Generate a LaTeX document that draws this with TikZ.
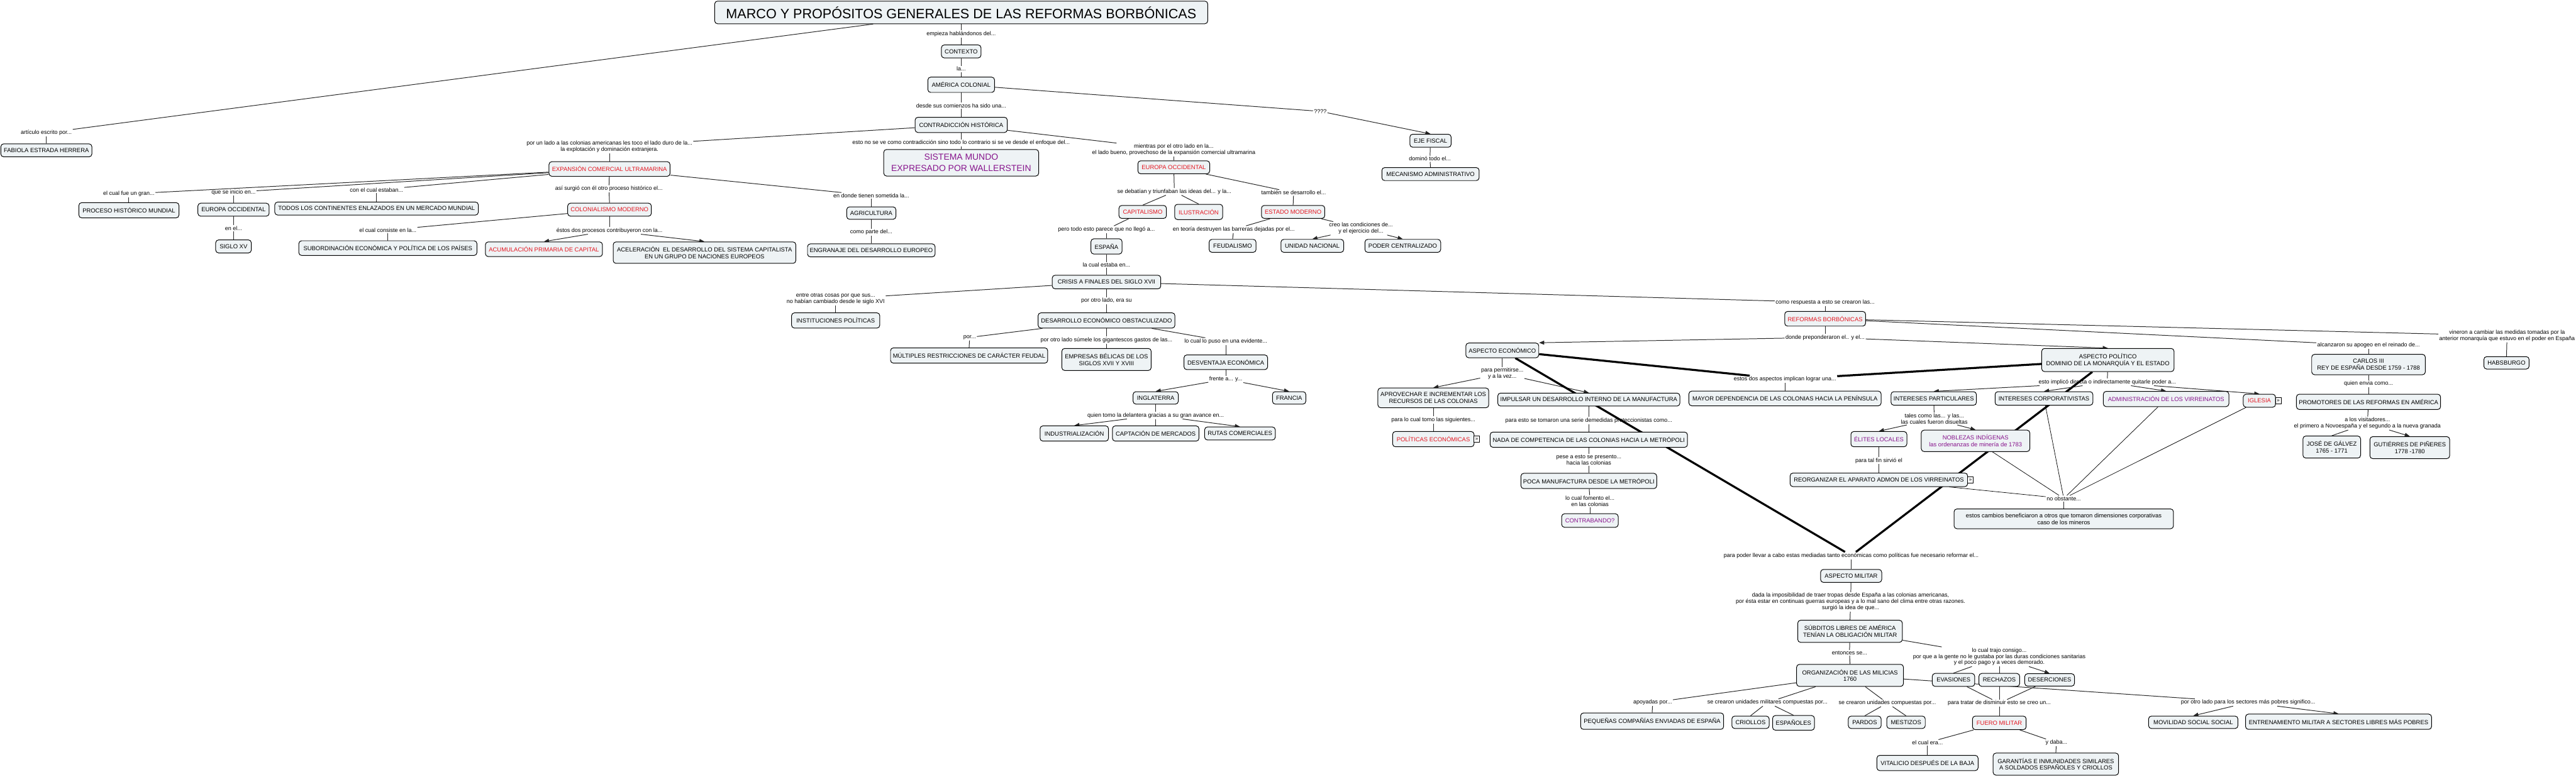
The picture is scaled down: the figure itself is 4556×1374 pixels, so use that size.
\documentclass[tikz,border=0pt]{standalone}
\usepackage{fontspec}
\setmainfont{Liberation Sans}
\usetikzlibrary{arrows.meta}
\definecolor{boxfill}{RGB}{238,243,245}
\definecolor{cred}{RGB}{228,22,32}
\definecolor{cpur}{RGB}{135,20,140}
\pgfdeclarelayer{bg}
\pgfsetlayers{bg,main}
\begin{document}
\begin{tikzpicture}[x=1pt,y=-1pt,
 box/.style={draw=black, line width=1.1pt, fill=boxfill, rounded corners=5pt, align=center,
   font=\fontsize{10.5}{12}\selectfont, inner xsep=4pt, inner ysep=2pt, minimum height=23pt},
 bw/.style={minimum width=#1pt},
 bh/.style={minimum height=#1pt},
 rtxt/.style={text=cred},
 ptxt/.style={text=cpur},
 lbl/.style={align=center, font=\fontsize{10}{11}\selectfont, inner sep=1.5pt},
 conn/.style={line width=1.1pt, draw=black!85},
 arr/.style={conn, -{Triangle[length=9pt,width=7pt]}},
 fine/.style={line width=0.8pt, draw=black},
 heavy/.style={line width=3.6pt, draw=black},
 icon/.style={draw, fill=white, line width=0.6pt, inner sep=0pt, minimum width=10pt, minimum height=11pt, font=\fontsize{9}{9}\selectfont}
]
\useasboundingbox (0,0) rectangle (4556,1374);

% ---------------- boxes ----------------
\node[box,bw=872,bh=40,font=\fontsize{24}{28}\selectfont] (title) at (1700,22) {MARCO Y PROPÓSITOS GENERALES DE LAS REFORMAS BORBÓNICAS};
\node[box,bw=70] (contexto) at (1700,91) {CONTEXTO};
\node[box,bw=118,bh=27] (americacol) at (1700,150) {AMÉRICA COLONIAL};
\node[box,bw=163,bh=27] (contradiccion) at (1700,221) {CONTRADICCIÓN HISTÓRICA};
\node[box,bw=274,bh=47,ptxt,font=\fontsize{15.5}{20}\selectfont] (sistema) at (1700,288) {SISTEMA MUNDO\\EXPRESADO POR WALLERSTEIN};
\node[box,bw=214,bh=26,rtxt] (expansion) at (1078,299) {EXPANSIÓN COMERCIAL ULTRAMARINA};
\node[box,bw=148,rtxt] (colonialismo) at (1078,371) {COLONIALISMO MODERNO};
\node[box,bw=207,bh=26,rtxt] (acumulacion) at (962,441) {ACUMULACIÓN PRIMARIA DE CAPITAL};
\node[box,bw=323,bh=38] (aceleracion) at (1246,447) {ACELERACIÓN \ EL DESARROLLO DEL SISTEMA CAPITALISTA\\EN UN GRUPO DE NACIONES EUROPEOS};
\node[box,bw=315,bh=26] (subordinacion) at (686,439) {SUBORDINACIÓN ECONÓMICA Y POLÍTICA DE LOS PAÍSES};
\node[box,bw=177,bh=27] (proceso) at (228,372) {PROCESO HISTÓRICO MUNDIAL};
\node[box,bw=126] (europaA) at (413,371) {EUROPA OCCIDENTAL};
\node[box,bw=360] (todos) at (666,369) {TODOS LOS CONTINENTES ENLAZADOS EN UN MERCADO MUNDIAL};
\node[box,bw=63] (siglo) at (413,436) {SIGLO XV};
\node[box,bw=161] (fabiola) at (82,266) {FABIOLA ESTRADA HERRERA};
\node[box,bw=87,bh=22] (agricultura) at (1541,377) {AGRICULTURA};
\node[box,bw=222] (engranaje) at (1541,443) {ENGRANAJE DEL DESARROLLO EUROPEO};
\node[box,bw=127,rtxt] (europaB) at (2076,296) {EUROPA OCCIDENTAL};
\node[box,bw=84,rtxt] (capitalismo) at (2021,375) {CAPITALISMO};
\node[box,bw=85,bh=27,rtxt] (ilustracion) at (2120,375) {ILUSTRACIÓN};
\node[box,bw=112,rtxt] (estado) at (2287,375) {ESTADO MODERNO};
\node[box,bw=55,bh=27] (espana) at (1957,436) {ESPAÑA};
\node[box,bw=83] (feudalismo) at (2180,435) {FEUDALISMO};
\node[box,bw=111] (unidad) at (2321,435) {UNIDAD NACIONAL};
\node[box,bw=134] (poder) at (2481,435) {PODER CENTRALIZADO};
\node[box,bw=73] (eje) at (2530,249) {EJE FISCAL};
\node[box,bw=172] (mecanismo) at (2530,308) {MECANISMO ADMINISTRATIVO};
\node[box,bw=192,bh=24] (crisis) at (1957,499) {CRISIS A FINALES DEL SIGLO XVII};
\node[box,bw=156,bh=27] (instituciones) at (1478,567) {INSTITUCIONES POLÍTICAS};
\node[box,bw=242,bh=27] (desarrollo) at (1957,567) {DESARROLLO ECONÓMICO OBSTACULIZADO};
\node[box,bw=278,bh=27] (multiples) at (1714,629) {MÚLTIPLES RESTRICCIONES DE CARÁCTER FEUDAL};
\node[box,bw=158,bh=39] (empresas) at (1957,636) {EMPRESAS BÉLICAS DE LOS\\SIGLOS XVII Y XVIII};
\node[box,bw=148,bh=26] (desventaja) at (2168,641) {DESVENTAJA ECONÓMICA};
\node[box,bw=80,bh=22] (inglaterra) at (2044,704) {INGLATERRA};
\node[box,bw=59,bh=22] (francia) at (2280,704) {FRANCIA};
\node[box,bw=121,bh=27] (industrializacion) at (1900,767) {INDUSTRIALIZACIÓN};
\node[box,bw=153,bh=27] (captacion) at (2044,767) {CAPTACIÓN DE MERCADOS};
\node[box,bw=125] (rutas) at (2193,767) {RUTAS COMERCIALES};
\node[box,bw=143,bh=26,rtxt] (reformas) at (3228,564) {REFORMAS BORBÓNICAS};
\node[box,bw=129,bh=26] (aspecon) at (2657,620) {ASPECTO ECONÓMICO};
\node[box,bw=196,bh=35] (aprovechar) at (2535,704) {APROVECHAR E INCREMENTAR LOS\\RECURSOS DE LAS COLONIAS};
\node[box,bw=322] (impulsar) at (2810,707) {IMPULSAR UN DESARROLLO INTERNO DE LA MANUFACTURA};
\node[box,bw=144,bh=27,rtxt] (politicas) at (2535,777) {POLÍTICAS ECONÓMICAS};
\node[box,bw=349,bh=27] (nada) at (2810,778) {NADA DE COMPETENCIA DE LAS COLONIAS HACIA LA METRÓPOLI};
\node[box,bw=238,bh=27] (poca) at (2810,851) {POCA MANUFACTURA DESDE LA METRÓPOLI};
\node[box,bw=100,bh=24,ptxt] (contrabando) at (2812,921) {CONTRABANDO?};
\node[box,bw=340,bh=26] (mayor) at (3157,705) {MAYOR DEPENDENCIA DE LAS COLONIAS HACIA LA PENÍNSULA};
\node[box,bw=151,bh=24] (intpart) at (3420,705) {INTERESES PARTICULARES};
\node[box,bw=99,bh=27,ptxt] (elites) at (3323,777) {ÉLITES LOCALES};
\node[box,bw=192,bh=38,ptxt] (noblezas) at (3494,780) {NOBLEZAS INDÍGENAS\\las ordenanzas de minería de 1783};
\node[box,bw=314,bh=24] (reorganizar) at (3323,849) {REORGANIZAR EL APARATO ADMON DE LOS VIRREINATOS};
\node[box,bw=234,bh=41] (asppol) at (3728,637) {ASPECTO POLÍTICO\\DOMINIO DE LA MONARQUÍA Y EL ESTADO};
\node[box,bw=173,bh=24] (intcorp) at (3615,705) {INTERESES CORPORATIVISTAS};
\node[box,bw=222,bh=27,ptxt] (admin) at (3831,706) {ADMINISTRACIÓN DE LOS VIRREINATOS};
\node[box,bw=57,rtxt] (iglesia) at (3996,709) {IGLESIA};
\node[box,bw=388,bh=35] (cambios) at (3650,918) {estos cambios beneficiaron a otros que tomaron dimensiones corporativas\\caso de los mineros};
\node[box,bw=201,bh=36] (carlos) at (4189,645) {CARLOS III\\REY DE ESPAÑA DESDE 1759 - 1788};
\node[box,bw=255,bh=27] (promotores) at (4189,711) {PROMOTORES DE LAS REFORMAS EN AMÉRICA};
\node[box,bw=102,bh=39] (jose) at (4124,791) {JOSÉ DE GÁLVEZ\\1765 - 1771};
\node[box,bw=141,bh=39] (gutierres) at (4262,792) {GUTIÉRRES DE PIÑERES\\1778 -1780};
\node[box,bw=80,bh=22] (habsburgo) at (4433,642) {HABSBURGO};
\node[box,bw=108] (aspmil) at (3274,1019) {ASPECTO MILITAR};
\node[box,bw=185,bh=39] (subditos) at (3272,1117) {SÚBDITOS LIBRES DE AMÉRICA\\TENÍAN LA OBLIGACIÓN MILITAR};
\node[box,bw=189,bh=39] (organizacion) at (3272,1195) {ORGANIZACIÓN DE LAS MILICIAS\\1760};
\node[box,bw=75] (evasiones) at (3455,1203) {EVASIONES};
\node[box,bw=72] (rechazos) at (3536,1203) {RECHAZOS};
\node[box,bw=88,bh=22] (deserciones) at (3625,1203) {DESERCIONES};
\node[box,bw=158,bh=22] (movilidad) at (3879,1278) {MOVILIDAD SOCIAL SOCIAL};
\node[box,bw=329,bh=27] (entrenamiento) at (4136,1277) {ENTRENAMIENTO MILITAR A SECTORES LIBRES MÁS POBRES};
\node[box,bw=95,bh=24,rtxt] (fuero) at (3536,1279) {FUERO MILITAR};
\node[box,bw=179,bh=27] (vitalicio) at (3409,1350) {VITALICIO DESPUÉS DE LA BAJA};
\node[box,bw=222,bh=39] (garantias) at (3636,1352) {GARANTÍAS E INMUNIDADES SIMILARES\\A SOLDADOS ESPAÑOLES Y CRIOLLOS};
\node[box,bw=253,bh=29] (pequenas) at (2922,1276) {PEQUEÑAS COMPAÑÍAS ENVIADAS DE ESPAÑA};
\node[box,bw=66,bh=22] (criollos) at (3096,1278) {CRIOLLOS};
\node[box,bw=74,bh=26] (espanoles) at (3172,1279) {ESPAÑOLES};
\node[box,bw=58,bh=22] (pardos) at (3298,1278) {PARDOS};
\node[box,bw=68,bh=22] (mestizos) at (3371,1278) {MESTIZOS};

% icons
\node[icon,anchor=west] (politicasI) at ([xshift=-1pt]politicas.east) {»};
\node[icon,anchor=west] (reorganizarI) at ([xshift=-1pt]reorganizar.east) {»};
\node[icon,anchor=west] (iglesiaI) at ([xshift=-1pt]iglesia.east) {»};

% ---------------- linking labels ----------------
\node[lbl] (lempieza) at (1700,60) {empieza hablándonos del...};
\node[lbl] (lla) at (1700,122) {la...};
\node[lbl] (ldesde) at (1700,187) {desde sus comienzos ha sido una...};
\node[lbl] (lporunlado) at (1078,259) {por un lado a las colonias americanas les toco el lado duro de la...\\la explotación y dominación extranjera.};
\node[lbl] (lestono) at (1700,253) {esto no se ve como contradicción sino todo lo contrario si se ve desde el enfoque del...};
\node[lbl] (lmientras) at (2076,265) {mientras por el otro lado en la...\\el lado bueno, provechoso de la expansión comercial ultramarina};
\node[lbl] (larticulo) at (82,235) {artículo escrito por...};
\node[lbl] (lq) at (2335,197) {????};
\node[lbl] (ldomino) at (2529,281) {dominó todo el...};
\node[lbl] (lelcualfue) at (228,343) {el cual fue un gran...};
\node[lbl] (lqueseinicio) at (413,340) {que se inicio en...};
\node[lbl] (lconelcual) at (666,336) {con el cual estaban...};
\node[lbl] (lasisurgio) at (1077,334) {así surgió con él otro proceso histórico el...};
\node[lbl] (lendonde) at (1541,346) {en donde tienen sometida la...};
\node[lbl] (lenel) at (413,404) {en el...};
\node[lbl] (lelcualconsiste) at (686,407) {el cual consiste en la...};
\node[lbl] (lestosdos) at (1078,408) {éstos dos procesos contribuyeron con la...};
\node[lbl] (lcomoparte) at (1541,411) {como parte del...};
\node[lbl] (lsedebatian) at (2077,339) {se debatían y triunfaban las ideas del... y la...};
\node[lbl] (ltambien) at (2288,341) {también se desarrollo el...};
\node[lbl] (lperotodo) at (1957,406) {pero todo esto parece que no llegó a...};
\node[lbl] (lenteoria) at (2182,406) {en teoría destruyen las barreras dejadas por el...};
\node[lbl] (lcreo) at (2407,404) {creo las condiciones de...\\y el ejercicio del...};
\node[lbl] (llacual) at (1957,469) {la cual estaba en...};
\node[lbl] (lentreotras) at (1478,529) {entre otras cosas por que sus...\\no habían cambiado desde le siglo XVI};
\node[lbl] (lporotrolado) at (1957,532) {por otro lado, era su};
\node[lbl] (lpor) at (1715,597) {por...};
\node[lbl] (lsumele) at (1957,602) {por otro lado súmele los gigantescos gastos de las...};
\node[lbl] (llocual) at (2168,604) {lo cual lo puso en una evidente...};
\node[lbl] (lfrente) at (2168,671) {frente a... y...};
\node[lbl] (lquien) at (2044,735) {quien tomo la delantera gracias a su gran avance en...};
\node[lbl] (lcomorespuesta) at (3228,535) {como respuesta a esto se crearon las...};
\node[lbl] (ldonde) at (3228,597) {donde preponderaron el.. y el...};
\node[lbl] (lparapermitirse) at (2657,661) {para permitirse...\\y a la vez...};
\node[lbl] (lestosdosasp) at (3157,671) {estos dos aspectos implican lograr una...};
\node[lbl] (lparalocual) at (2535,743) {para lo cual tomo las siguientes...};
\node[lbl] (lparaesto) at (2810,744) {para esto se tomaron una serie demedidas proteccionistas como...};
\node[lbl] (lpese) at (2810,814) {pese a esto se presento...\\hacia las colonias};
\node[lbl] (lfomento) at (2812,887) {lo cual fomento el...\\en las colonias};
\node[lbl] (ltales) at (3421,741) {tales como las... y las...\\las cuales fueron disueltas};
\node[lbl] (lparatal) at (3323,815) {para tal fin sirvió el};
\node[lbl] (limplico) at (3727,676) {esto implicó directa o indirectamente quitarle poder a...};
\node[lbl] (lnoob) at (3650,882) {no obstante...};
\node[lbl] (lalcanzaron) at (4189,611) {alcanzaron su apogeo en el reinado de...};
\node[lbl] (lvineron) at (4434,594) {vineron a cambiar las medidas tomadas por la\\anterior monarquía que estuvo en el poder en España};
\node[lbl] (lquienenvia) at (4189,679) {quien envia como...};
\node[lbl] (lvisitadores) at (4187,749) {a los visitadores...\\el primero a Novoespaña y el segundo a la nueva granada};
\node[lbl] (lparapoder) at (3274,983) {para poder llevar a cabo estas mediadas tanto económicas como políticas fue necesario reformar el...};
\node[lbl] (ldada) at (3273,1065) {dada la imposibilidad de traer tropas desde España a las colonias americanas,\\por ésta estar en continuas guerras europeas y a lo mal sano del clima entre otras razones.\\surgió la idea de que...};
\node[lbl] (lentonces) at (3271,1155) {entonces se...};
\node[lbl] (ltrajo) at (3536,1162) {lo cual trajo consigo...\\por que a la gente no le gustaba por las duras condiciones sanitarias\\y el poco pago y a veces demorado.};
\node[lbl] (lapoyadas) at (2923,1243) {apoyadas por...};
\node[lbl] (lunidadesmil) at (3126,1243) {se crearon unidades militares compuestas por...};
\node[lbl] (lunidadescomp) at (3338,1244) {se crearon unidades compuestas por...};
\node[lbl] (lparatratar) at (3536,1244) {para tratar de disminuir esto se creo un...};
\node[lbl] (lsectores) at (3976,1243) {por otro lado para los sectores más pobres significo...};
\node[lbl] (lelcualera) at (3409,1314) {el cual era...};
\node[lbl] (lydaba) at (3637,1314) {y daba...};

% ---------------- connectors ----------------
\begin{pgfonlayer}{bg}
\draw[conn] (title) -- (lempieza);
\draw[conn] (lempieza) -- (contexto.north);
\draw[conn] (contexto) -- (lla);
\draw[conn] (lla) -- (americacol.north);
\draw[conn] (americacol) -- (ldesde);
\draw[conn] (ldesde) -- (contradiccion.north);
\draw[conn] (title) -- (larticulo);
\draw[conn] (larticulo) -- (fabiola.north);
\draw[conn] (americacol) -- (lq);
\draw[arr] (lq) -- (eje.north);
\draw[conn] (eje) -- (ldomino);
\draw[conn] (ldomino) -- (mecanismo.north);
\draw[conn] (contradiccion) -- (lporunlado);
\draw[conn] (lporunlado) -- (expansion.north);
\draw[conn] (contradiccion) -- (lestono);
\draw[conn] (lestono) -- (sistema.north);
\draw[conn] (contradiccion) -- (lmientras);
\draw[conn] (lmientras) -- (europaB.north);
\draw[conn] (expansion) -- (lelcualfue);
\draw[conn] (lelcualfue) -- (proceso.north);
\draw[conn] (expansion) -- (lqueseinicio);
\draw[conn] (lqueseinicio) -- (europaA.north);
\draw[conn] (europaA) -- (lenel);
\draw[conn] (lenel) -- (siglo.north);
\draw[conn] (expansion) -- (lconelcual);
\draw[conn] (lconelcual) -- (todos.north);
\draw[conn] (expansion) -- (lasisurgio);
\draw[conn] (lasisurgio) -- (colonialismo.north);
\draw[conn] (expansion) -- (lendonde);
\draw[conn] (lendonde) -- (agricultura.north);
\draw[conn] (agricultura) -- (lcomoparte);
\draw[conn] (lcomoparte) -- (engranaje.north);
\draw[conn] (colonialismo) -- (lelcualconsiste);
\draw[conn] (lelcualconsiste) -- (subordinacion.north);
\draw[conn] (colonialismo) -- (lestosdos);
\draw[arr] (lestosdos) -- (acumulacion.north);
\draw[arr] (lestosdos) -- (aceleracion.north);
\draw[conn] (europaB) -- (lsedebatian);
\draw[conn] (lsedebatian) -- (capitalismo.north);
\draw[conn] (lsedebatian) -- (ilustracion.north);
\draw[conn] (europaB) -- (ltambien);
\draw[conn] (ltambien) -- (estado.north);
\draw[conn] (capitalismo) -- (lperotodo);
\draw[conn] (lperotodo) -- (espana.north);
\draw[conn] (estado) -- (lenteoria);
\draw[conn] (lenteoria) -- (feudalismo.north);
\draw[conn] (estado) -- (lcreo);
\draw[arr] (lcreo) -- (unidad.north);
\draw[arr] (lcreo) -- (poder.north);
\draw[conn] (espana) -- (llacual);
\draw[conn] (llacual) -- (crisis.north);
\draw[conn] (crisis) -- (lentreotras);
\draw[conn] (lentreotras) -- (instituciones.north);
\draw[conn] (crisis) -- (lporotrolado);
\draw[conn] (lporotrolado) -- (desarrollo.north);
\draw[conn] (desarrollo) -- (lpor);
\draw[conn] (lpor) -- (multiples.north);
\draw[conn] (desarrollo) -- (lsumele);
\draw[conn] (lsumele) -- (empresas.north);
\draw[conn] (desarrollo) -- (llocual);
\draw[conn] (llocual) -- (desventaja.north);
\draw[conn] (desventaja) -- (lfrente);
\draw[arr] (lfrente) -- (inglaterra.north);
\draw[arr] (lfrente) -- (francia.north);
\draw[conn] (inglaterra) -- (lquien);
\draw[arr] (lquien) -- (industrializacion.north);
\draw[conn] (lquien) -- (captacion.north);
\draw[arr] (lquien) -- (rutas.north);
\draw[conn] (crisis) -- (lcomorespuesta);
\draw[conn] (lcomorespuesta) -- (reformas.north);
\draw[conn] (reformas) -- (ldonde);
\draw[arr] (ldonde) -- (aspecon.north east);
\draw[arr] (ldonde) -- (asppol.north);
\draw[conn] (reformas) -- (lalcanzaron);
\draw[conn] (lalcanzaron) -- (carlos.north);
\draw[conn] (carlos) -- (lquienenvia);
\draw[conn] (lquienenvia) -- (promotores.north);
\draw[conn] (promotores) -- (lvisitadores);
\draw[conn] (lvisitadores) -- (jose.north);
\draw[arr] (lvisitadores) -- (gutierres.north);
\draw[conn] (reformas) -- (lvineron);
\draw[conn] (lvineron) -- (habsburgo.north);
\draw[conn] (aspecon) -- (lparapermitirse);
\draw[arr] (lparapermitirse) -- (aprovechar.north);
\draw[arr] (lparapermitirse) -- (impulsar.north);
\draw[conn] (aprovechar) -- (lparalocual);
\draw[conn] (lparalocual) -- (politicas.north);
\draw[conn] (impulsar) -- (lparaesto);
\draw[conn] (lparaesto) -- (nada.north);
\draw[conn] (nada) -- (lpese);
\draw[conn] (lpese) -- (poca.north);
\draw[conn] (poca) -- (lfomento);
\draw[conn] (lfomento) -- (contrabando.north);
\draw[heavy] (aspecon) -- (lestosdosasp);
\draw[heavy] (asppol) -- (lestosdosasp);
\draw[conn] (lestosdosasp) -- (mayor.north);
\draw[heavy] (aspecon) -- (lparapoder);
\draw[heavy] (asppol) -- (lparapoder);
\draw[conn] (lparapoder) -- (aspmil.north);
\draw[conn] (intpart) -- (ltales);
\draw[arr] (ltales) -- (elites.north);
\draw[arr] (ltales) -- (noblezas.north);
\draw[conn] (elites) -- (lparatal);
\draw[conn] (lparatal) -- (reorganizar.north);
\draw[conn] (asppol) -- (limplico);
\draw[arr] (limplico) -- (intpart.north);
\draw[arr] (limplico) -- (intcorp.north);
\draw[arr] (limplico) -- (admin.north);
\draw[arr] (limplico) -- (iglesia.north);
\draw[fine] (noblezas) -- (lnoob);
\draw[fine] (intcorp) -- (lnoob);
\draw[fine] (admin) -- (lnoob);
\draw[fine] (iglesia) -- (lnoob);
\draw[fine] (reorganizar) -- (lnoob);
\draw[conn] (lnoob) -- (lnoob |- cambios.north);
\draw[conn] (aspmil) -- (ldada);
\draw[conn] (ldada) -- (subditos.north);
\draw[conn] (subditos) -- (lentonces);
\draw[conn] (lentonces) -- (organizacion.north);
\draw[conn] (subditos) -- (ltrajo);
\draw[conn] (ltrajo) -- (evasiones.north);
\draw[conn] (ltrajo) -- (rechazos.north);
\draw[arr] (ltrajo) -- (deserciones.north);
\draw[conn] (organizacion) -- (lapoyadas);
\draw[conn] (lapoyadas) -- (pequenas.north);
\draw[conn] (organizacion) -- (lunidadesmil);
\draw[conn] (lunidadesmil) -- (criollos.north);
\draw[conn] (lunidadesmil) -- (espanoles.north);
\draw[conn] (organizacion) -- (lunidadescomp);
\draw[conn] (lunidadescomp) -- (pardos.north);
\draw[conn] (lunidadescomp) -- (mestizos.north);
\draw[conn] (organizacion) -- (lsectores);
\draw[arr] (lsectores) -- (movilidad.north);
\draw[arr] (lsectores) -- (entrenamiento.north);
\draw[conn] (evasiones) -- (lparatratar);
\draw[conn] (rechazos) -- (lparatratar);
\draw[conn] (deserciones) -- (lparatratar);
\draw[conn] (lparatratar) -- (fuero.north);
\draw[conn] (fuero) -- (lelcualera);
\draw[conn] (lelcualera) -- (vitalicio.north);
\draw[conn] (fuero) -- (lydaba);
\draw[conn] (lydaba) -- (garantias.north);
\end{pgfonlayer}
\end{tikzpicture}
\end{document}
